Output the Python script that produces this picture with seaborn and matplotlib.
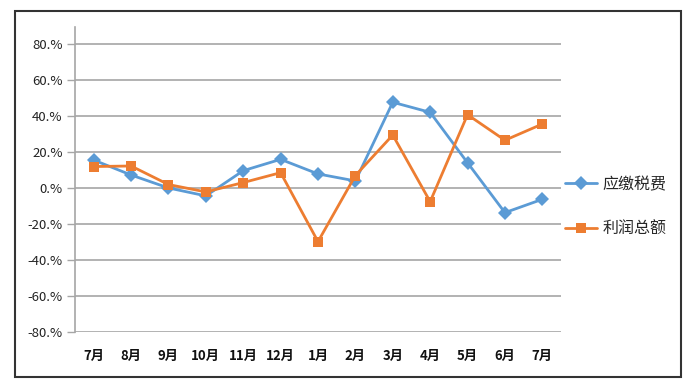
import matplotlib
matplotlib.use("Agg")
import matplotlib.pyplot as plt
import seaborn as sns
import pandas as pd
from matplotlib.patches import Rectangle

# data (%)
months = ["7月", "8月", "9月", "10月", "11月", "12月", "1月", "2月", "3月", "4月", "5月", "6月", "7月"]
tax = [15.5, 7.2, 0.0, -4.4, 9.6, 15.9, 7.8, 3.9, 47.6, 42.0, 14.0, -13.7, -6.3]
profit = [11.9, 12.2, 1.9, -2.2, 3.0, 8.5, -29.8, 6.9, 29.4, -7.6, 40.7, 26.5, 35.5]
series_names = ["应缴税费", "利润总额"]
yticks = [-80, -60, -40, -20, 0, 20, 40, 60, 80]
ytick_labels = [f"{v}.%" for v in yticks]

sns.set_theme(style="white")
plt.rcParams["font.family"] = ["Noto Sans CJK SC", "DejaVu Sans"]

df = pd.DataFrame({
    "pos": list(range(len(months))) * 2,
    "value": tax + profit,
    "series": [series_names[0]] * len(months) + [series_names[1]] * len(months),
})

fig = plt.figure(figsize=(7, 3.9), dpi=100)
ax = fig.add_axes([75 / 700, (390 - 332) / 390, (561 - 75) / 700, (332 - 27) / 390])

sns.lineplot(data=df, x="pos", y="value", hue="series", style="series",
             palette=["#5B9BD5", "#ED7D31"], markers=["D", "s"], dashes=False,
             markersize=7, linewidth=2, markeredgewidth=0, ax=ax)

ax.set_xlim(-0.5, len(months) - 0.5)
ax.set_ylim(-80, 89.4)
ax.set_yticks(yticks)
ax.set_yticklabels(ytick_labels, fontsize=9.5, color="#222222")
ax.set_xticks(range(len(months)))
ax.set_xticklabels(months, fontsize=9.5, fontweight="bold", color="#111111")
ax.tick_params(axis="x", length=0, pad=12)
ax.tick_params(axis="y", length=6, width=1, color="#A6A6A6", pad=3, left=True)
ax.grid(axis="y", color="#A6A6A6", linewidth=1.2)
ax.set_axisbelow(True)
ax.set_xlabel("")
ax.set_ylabel("")
for side in ["top", "right", "bottom"]:
    ax.spines[side].set_visible(False)
ax.spines["left"].set_color("#A6A6A6")
ax.spines["left"].set_linewidth(1.2)

leg = ax.legend(loc="center left", bbox_to_anchor=(565 / 700, 1 - 207 / 390),
                bbox_transform=fig.transFigure, frameon=False, fontsize=11.5,
                handlelength=2.0, handletextpad=0.35, labelspacing=1.75,
                borderpad=0, borderaxespad=0)
for h in leg.legend_handles:
    h.set_markersize(7)

# outer chart border
fig.patches.append(Rectangle((15 / 700, (390 - 377) / 390), (681 - 15) / 700, (377 - 11) / 390,
                             transform=fig.transFigure, fill=False, edgecolor="#333333", linewidth=1.5))

fig.savefig("out.png", dpi=100)
